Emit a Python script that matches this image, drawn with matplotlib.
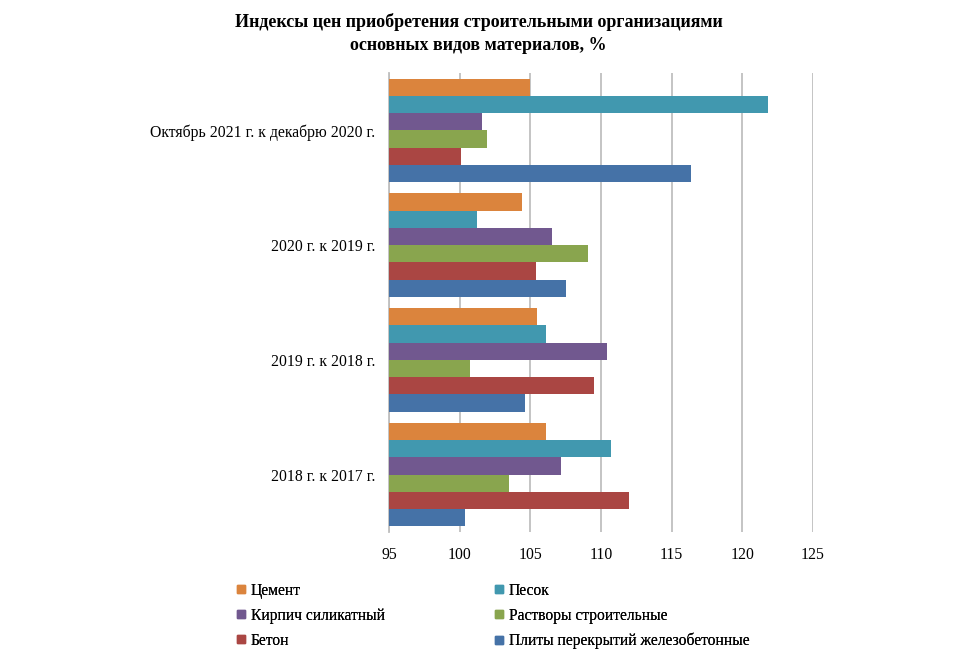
import numpy as np
import matplotlib
matplotlib.use("Agg")
import matplotlib.pyplot as plt
from matplotlib.lines import Line2D

# Categories, bottom to top as drawn
periods = ["2018 г. к 2017 г.", "2019 г. к 2018 г.", "2020 г. к 2019 г.",
           "Октябрь 2021 г. к декабрю 2020 г."]
materials = ["Цемент", "Песок", "Кирпич силикатный", "Растворы строительные",
             "Бетон", "Плиты перекрытий железобетонные"]
colors = ["#DB843D", "#4198AF", "#71588F", "#89A54E", "#AA4643", "#4572A7"]

cement = [106.1, 105.5, 104.4, 105.0]
sand = [110.7, 106.1, 101.2, 121.8]
brick = [107.2, 110.4, 106.5, 101.6]
mortar = [103.5, 100.7, 109.1, 101.9]
concrete = [112.0, 109.5, 105.4, 100.1]
slabs = [100.4, 104.6, 107.5, 116.4]
series = [cement, sand, brick, mortar, concrete, slabs]

xticks = [95, 100, 105, 110, 115, 120, 125]

plt.rcParams["font.family"] = ["Liberation Serif", "DejaVu Serif"]

fig = plt.figure(figsize=(9.57, 6.6), dpi=100)
ax = fig.add_axes([389 / 957, 1 - 532 / 660, (813 - 389) / 957, (532 - 73) / 660])

y = np.arange(len(periods))
h = 0.15
for i, (vals, c) in enumerate(zip(series, colors)):
    off = (2.5 - i) * h
    ax.barh(y + off, np.array(vals) - 95, left=95, height=h, color=c,
            label=materials[i], zorder=3)

ax.set_xlim(95, 125)
ax.set_ylim(-0.5, 3.5)
ax.set_xticks(xticks)
ax.set_yticks(y)
ax.set_yticklabels(periods, fontsize=11.3)
ax.tick_params(axis="x", length=0, pad=11, labelsize=11.3)
ax.tick_params(axis="y", length=0, pad=10)
ax.grid(axis="x", color="#BFBFBF", linewidth=1.3, zorder=0)
for s in ["top", "right", "bottom"]:
    ax.spines[s].set_visible(False)
ax.spines["left"].set_color("#BFBFBF")
ax.spines["left"].set_linewidth(1.3)

fig.text(0.5, 1 - 22 / 660, "Индексы цен приобретения строительными организациями",
         ha="center", va="center", fontsize=13, fontweight="bold")
fig.text(0.5, 1 - 45 / 660, "основных видов материалов, %",
         ha="center", va="center", fontsize=13, fontweight="bold")

handles = [Line2D([], [], marker="s", linestyle="", color=c, markersize=6)
           for c in colors]
for col, x0 in [(0, 229), (1, 487)]:
    idx = [col, col + 2, col + 4]
    leg = fig.legend([handles[k] for k in idx], [materials[k] for k in idx],
                     loc="upper left", bbox_to_anchor=(x0 / 957, 1 - 575 / 660),
                     frameon=False, fontsize=11.2, labelspacing=0.58,
                     handlelength=0.6, handletextpad=0.3, borderpad=0)
    fig.add_artist(leg)

fig.savefig("out.png", dpi=100)
